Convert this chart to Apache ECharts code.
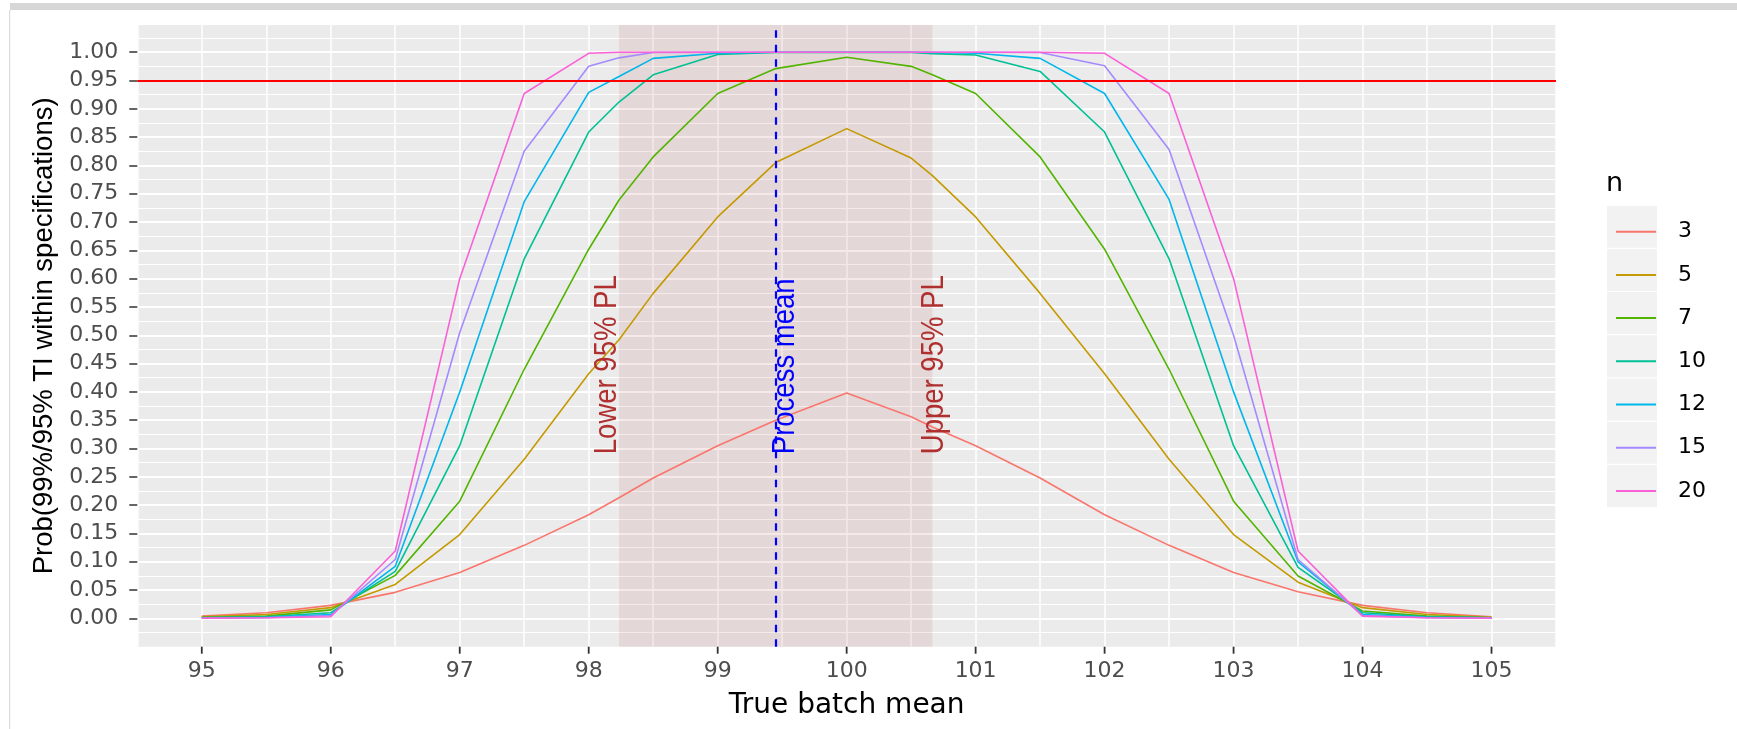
<!DOCTYPE html>
<html>
<head>
<meta charset="utf-8">
<title>Prob(99%/95% TI within specifications)</title>
<script src="https://cdn.jsdelivr.net/npm/echarts@6/dist/echarts.min.js"></script>
<style>
  html, body { margin: 0; padding: 0; background: #ffffff; }
  #chart { width: 1737px; height: 729px; }
</style>
</head>
<body>
<div id="chart"></div>
<script>
// true batch mean grid (x) and probability per sample size n
var batchMean = [95, 95.5, 96, 96.5, 97, 97.5, 98, 98.235, 98.5, 99, 99.45, 100,
                 100.5, 100.665, 101, 101.5, 102, 102.5, 103, 103.5, 104, 104.5, 105];
var sampleSizes = ['3', '5', '7', '10', '12', '15', '20'];
var prob3  = [0.004, 0.010, 0.023, 0.046, 0.081, 0.129, 0.183, 0.213, 0.248, 0.305, 0.350, 0.398,
              0.356, 0.338, 0.305, 0.248, 0.183, 0.129, 0.081, 0.047, 0.023, 0.010, 0.003];
var prob5  = [0.003, 0.007, 0.019, 0.060, 0.148, 0.281, 0.432, 0.492, 0.574, 0.709, 0.805, 0.865,
              0.813, 0.782, 0.709, 0.574, 0.432, 0.281, 0.148, 0.064, 0.019, 0.007, 0.002];
var prob7  = [0.002, 0.004, 0.015, 0.076, 0.207, 0.440, 0.652, 0.739, 0.815, 0.927, 0.971, 0.991,
              0.975, 0.960, 0.927, 0.815, 0.652, 0.440, 0.207, 0.075, 0.013, 0.004, 0.001];
var prob10 = [0.001, 0.003, 0.010, 0.083, 0.305, 0.635, 0.859, 0.912, 0.960, 0.996, 0.9995, 1.000,
              0.9995, 0.9975, 0.995, 0.966, 0.859, 0.635, 0.305, 0.090, 0.010, 0.003, 0.001];
var prob12 = [0.001, 0.002, 0.007, 0.092, 0.400, 0.736, 0.929, 0.957, 0.989, 0.998, 1.000, 1.000,
              1.000, 0.9995, 0.998, 0.989, 0.927, 0.740, 0.400, 0.100, 0.007, 0.002, 0.001];
var prob15 = [0.0005, 0.001, 0.005, 0.104, 0.505, 0.825, 0.975, 0.990, 0.9995, 1.000, 1.000, 1.000,
              1.000, 1.000, 1.000, 0.9995, 0.976, 0.828, 0.500, 0.104, 0.005, 0.001, 0.0005];
var prob20 = [0.0002, 0.001, 0.003, 0.119, 0.600, 0.927, 0.998, 1.000, 1.000, 1.000, 1.000, 1.000,
              1.000, 1.000, 1.000, 1.000, 0.998, 0.927, 0.600, 0.119, 0.004, 0.001, 0.0002];
var probByN = [prob3, prob5, prob7, prob10, prob12, prob15, prob20];

var xTicks = [95, 96, 97, 98, 99, 100, 101, 102, 103, 104, 105];
var yTicks = [0, 0.05, 0.10, 0.15, 0.20, 0.25, 0.30, 0.35, 0.40, 0.45, 0.50,
              0.55, 0.60, 0.65, 0.70, 0.75, 0.80, 0.85, 0.90, 0.95, 1.00];

// reference lines / band
var lowerPL = 98.235;
var processMean = 99.45;
var upperPL = 100.665;
var targetProb = 0.95;
var labelY = 0.29;

var lineColors = ['#F8766D', '#C49A00', '#53B400', '#00C094', '#00B6EB', '#A58AFF', '#FB61D7'];

var yMin = -0.05, yMax = 1.048;

var chart = echarts.init(document.getElementById('chart'));

var series = [{
  name: 'band',
  type: 'line',
  data: [],
  z: 1,
  silent: true,
  markArea: {
    silent: true,
    itemStyle: { color: 'rgba(165,42,42,0.1)' },
    data: [[{ xAxis: lowerPL }, { xAxis: upperPL }]]
  }
}];
for (var i = 0; i < sampleSizes.length; i++) {
  var pts = [];
  for (var j = 0; j < batchMean.length; j++) {
    pts.push([batchMean[j], probByN[i][j]]);
  }
  series.push({
    name: sampleSizes[i],
    type: 'line',
    data: pts,
    symbol: 'none',
    z: 2,
    lineStyle: { color: lineColors[i], width: 1.6 },
    itemStyle: { color: lineColors[i] },
    emphasis: { disabled: true }
  });
}
series.push({
  name: 'refs',
  type: 'line',
  data: [],
  z: 3,
  silent: true,
  markLine: {
    silent: true,
    symbol: 'none',
    label: { show: false },
    data: [
      { yAxis: targetProb, lineStyle: { color: '#ff0000', width: 2, type: 'solid' } },
      { xAxis: processMean, lineStyle: { color: '#0000ff', width: 2.2, type: [7.5, 7] } }
    ]
  }
});

var keyTop = 205.7, keyStep = 43.2, keyH = 42;

chart.setOption({
  animation: false,
  backgroundColor: '#ffffff',
  grid: {
    left: 137.3, right: 181, top: 25, bottom: 82.3,
    show: true, backgroundColor: '#ebebeb', borderWidth: 0
  },
  legend: {
    orient: 'vertical',
    left: 1610,
    top: keyTop + keyH / 2 - 11,
    itemWidth: 40,
    itemHeight: 22,
    itemGap: keyStep - 22,
    selectedMode: false,
    data: sampleSizes,
    itemStyle: { opacity: 0 },
    lineStyle: { width: 2 },
    textStyle: { fontFamily: 'DejaVu Sans', fontSize: 22, color: '#000000', lineHeight: 22, padding: [0, 0, 0, 17] }
  },
  xAxis: {
    type: 'value',
    min: 94.5, max: 105.5, interval: 0.5,
    name: 'True batch mean',
    nameLocation: 'middle',
    nameGap: 45,
    nameTextStyle: { fontFamily: 'DejaVu Sans', fontSize: 28, color: '#000000' },
    axisLine: { show: false, onZero: false },
    axisTick: { show: false },
    axisLabel: { customValues: xTicks, margin: 14, fontFamily: 'DejaVu Sans', fontSize: 22, color: '#4d4d4d' },
    splitLine: { show: true, lineStyle: { color: '#ffffff', width: 1.5 } }
  },
  yAxis: {
    type: 'value',
    min: yMin, max: yMax, interval: 0.05,
    name: 'Prob(99%/95% TI within specifications)',
    nameLocation: 'middle',
    nameGap: 75,
    nameTextStyle: { fontFamily: 'Liberation Sans', fontSize: 27.5, color: '#000000' },
    axisLine: { show: false, onZero: false },
    axisTick: { show: true, customValues: yTicks, length: 8, lineStyle: { color: '#333333', width: 1.5 } },
    axisLabel: {
      customValues: yTicks, margin: 19, fontFamily: 'DejaVu Sans', fontSize: 22, color: '#4d4d4d',
      formatter: function (v) { return (v < -0.001 || v > 1.001) ? '' : v.toFixed(2); }
    },
    splitLine: { show: true, lineStyle: { color: '#ffffff', width: 2 } },
    minorTick: { show: false, splitNumber: 2 },
    minorSplitLine: { show: true, lineStyle: { color: '#ffffff', width: 1 } }
  },
  series: series
});

// frame, legend keys, x ticks, annotations
var graphics = [
  { type: 'rect', shape: { x: 10, y: 3, width: 1727, height: 7 }, style: { fill: '#d7d7d7' }, silent: true },
  { type: 'rect', shape: { x: 9, y: 10, width: 1.2, height: 719 }, style: { fill: '#dcdcdc' }, silent: true },
  { type: 'text', x: 1606, y: 184, style: { text: 'n', fill: '#000000', font: '27px "DejaVu Sans"', align: 'left', verticalAlign: 'middle' } }
];
for (var k = 0; k < sampleSizes.length; k++) {
  graphics.push({
    type: 'rect', z: 1, silent: true,
    shape: { x: 1607, y: keyTop + k * keyStep, width: 50, height: keyH },
    style: { fill: '#f2f2f2' }
  });
}
// x-axis tick marks, placed through the axis scale
for (var t = 0; t < xTicks.length; t++) {
  var tp = chart.convertToPixel({ gridIndex: 0 }, [xTicks[t], yMin]);
  graphics.push({
    type: 'line', z: 50, silent: true,
    shape: { x1: tp[0], y1: tp[1], x2: tp[0], y2: tp[1] + 7 },
    style: { stroke: '#333333', lineWidth: 1.8 }
  });
}
var annFont = '27.5px "Liberation Sans"';
var pLow = chart.convertToPixel({ gridIndex: 0 }, [lowerPL, labelY]);
var pMean = chart.convertToPixel({ gridIndex: 0 }, [processMean, labelY]);
var pUp = chart.convertToPixel({ gridIndex: 0 }, [upperPL, labelY]);
graphics.push(
  { type: 'text', z: 100, silent: true, x: pLow[0] + 5, y: pLow[1], rotation: Math.PI / 2, scaleY: 1.17,
    style: { text: 'Lower 95% PL', fill: '#b03030', font: annFont, align: 'left', verticalAlign: 'bottom' } },
  { type: 'text', z: 100, silent: true, x: pMean[0] - 6.5, y: pMean[1], rotation: Math.PI / 2, scaleY: 1.17,
    style: { text: 'Process mean', fill: '#0000ff', font: annFont, align: 'left', verticalAlign: 'top' } },
  { type: 'text', z: 100, silent: true, x: pUp[0] + 2, y: pUp[1], rotation: Math.PI / 2, scaleY: 1.17,
    style: { text: 'Upper 95% PL', fill: '#b03030', font: annFont, align: 'left', verticalAlign: 'middle' } }
);
chart.setOption({ graphic: graphics });

window.addEventListener('resize', function () { chart.resize(); });
</script>
</body>
</html>
